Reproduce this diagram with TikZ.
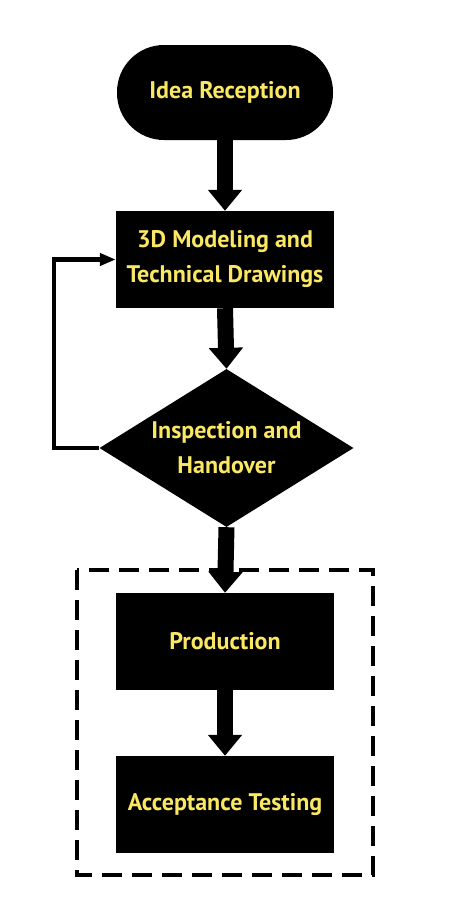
\documentclass[tikz,border=0pt]{standalone}
\usepackage{fontspec}
\setmainfont{PT Sans}
\usetikzlibrary{shapes.geometric,arrows.meta}
\definecolor{labelyellow}{RGB}{250,232,100}
\begin{document}
\begin{tikzpicture}[x=1pt,y=-1pt,
  every node/.style={font=\bfseries\fontsize{24}{35}\selectfont, text=labelyellow, align=center, inner sep=0pt},
  stadium/.style={fill=black, rounded corners=47pt, minimum width=216pt, minimum height=95pt},
  stepbox/.style={fill=black, minimum width=218pt, minimum height=97pt},
  decision/.style={diamond, fill=black, aspect=1.6, minimum width=254pt, minimum height=158pt},
  flow/.style={line width=16pt, -{Triangle[width=33pt,length=21pt]}},
  loopback/.style={line width=4.5pt, line join=miter, -{Triangle[width=12pt,length=16pt]}},
  groupframe/.style={line width=4.5pt, dash pattern=on 20pt off 10pt}
]
\useasboundingbox (0,0) rectangle (450,900);

\node[stadium]  (idea)   at (225,92.5)  {Idea Reception};
\node[stepbox]  (model)  at (225,259.5) {3D Modeling and\\Technical Drawings};
\node[decision] (check)  at (226.5,448) {Inspection and\\Handover};
\node[stepbox]  (prod)   at (225,641.5) {Production};
\node[stepbox]  (accept) at (225,804.5) {Acceptance Testing};

% production stage frame
\draw[groupframe] (77,570) rectangle (373,875);

\draw[flow] (idea.south) -- (model.north);
\draw[flow] (model.south) -- (check.north);
\draw[flow] (check.south) -- (prod.north);
\draw[flow] (prod.south) -- (accept.north);

\coordinate (loopcorner) at (54,448);
\draw[loopback] (check.west) -- (loopcorner) |- (model.west);
\end{tikzpicture}
\end{document}
